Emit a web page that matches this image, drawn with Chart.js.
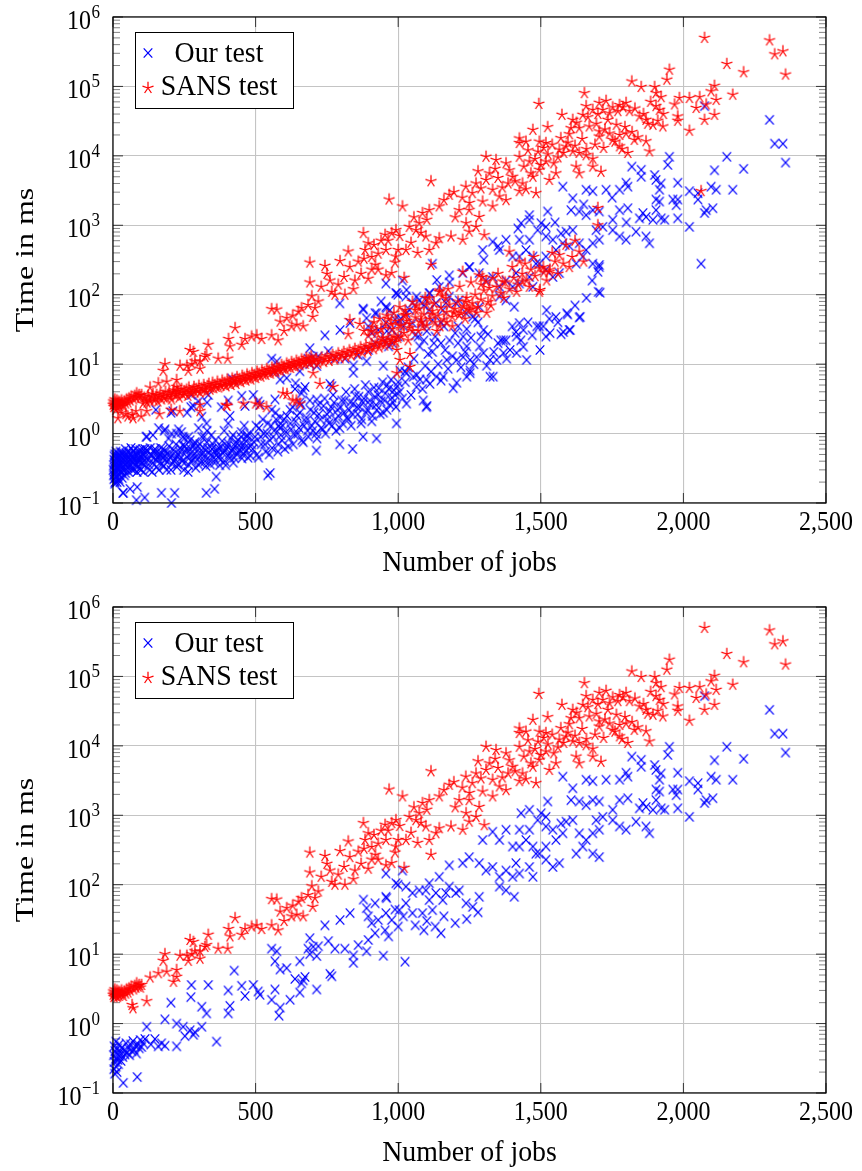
<!DOCTYPE html>
<html>
<head>
<meta charset="utf-8">
<title>Our test vs SANS test</title>
<script src="https://cdn.jsdelivr.net/npm/chart.js@4.4.1/dist/chart.umd.min.js"></script>
<style>
  body { margin: 0; background: #fff; }
  canvas { display: block; }
</style>
</head>
<body>
<canvas id="allJobs" width="862" height="585"></canvas>
<canvas id="subset" width="862" height="586"></canvas>
<script>
// axis ticks
var xTicks = [0, 500, 1000, 1500, 2000, 2500];
var xTickLabels = ['0', '500', '1,000', '1,500', '2,000', '2,500'];
var yTicks = [0.1, 1, 10, 100, 1000, 10000, 100000, 1000000];
var yTickExp = ['\u22121', '0', '1', '2', '3', '4', '5', '6'];

// [jobs, ms] -- runs shown in both plots
var ourShared = [
  [2,0.35],[3,0.22],[4,0.47],[5,0.28],[6,0.19],[7,0.4],[9,0.31],[10,0.55],[11,0.24],[13,0.37],[14,0.2],[16,0.44],[17,0.3],[19,0.26],[21,0.5],[23,0.34],[25,0.39],[28,0.29],[31,0.45],[34,0.33],[36,0.14],[39,0.41],[42,0.36],[46,0.52],[50,0.38],[54,0.44],[58,0.35],[62,0.5],[66,0.4],[70,0.56],[74,0.42],[78,0.48],[82,0.37],[85,0.17],[88,0.5],[92,0.44],[96,0.58],[100,0.46],[106,0.52],[112,0.6],
  [118,0.9],[133,0.5],[147,0.6],[159,0.47],[170,0.52],[182,0.48],[182,1.15],[203,2.0],[223,1.0],[223,0.47],[246,0.9],[252,0.66],[270,0.8],[273,2.4],[275,3.6],[282,0.69],[287,0.75],[311,0.9],[311,1.75],[328,1.4],[334,3.6],[363,0.55],[404,3.0],[404,1.4],[410,1.8],[425,5.8],[451,3.5],[463,2.5],[492,3.6],[509,2.9],[515,2.6],
  [556,2.2],[556,12],[568,3.1],[568,7.9],[574,11],[582,1.3],[586,1.7],[586,6.0],[609,6.3],[621,2.2],[638,4.4],[655,7.9],[655,2.8],[661,3.8],[667,4.2],[673,4.7],[684,12],[690,10],[690,17],[702,12.8],[714,9.4],[714,3.1],[720,13],[743,26],[755,15.4],[761,5.2],[767,4.8],[778,12],[796,31],[813,12],[831,39],[843,9.6],[843,7.5],[860,13.5],[878,61],[889,46],[889,11],[895,16],[895,35],[907,28],[919,54],[919,20],[930,31],[948,9.5],[954,22],[959,64],[966,18],[977,31],[989,44],[999,100],[1000,25],[1018,35],[1024,7.8],
  [957,145],[957,67],[957,39],[992,105],[1004,43],[1015,160],[1027,94],[1027,54],[1050,76],[1050,39],[1074,83],[1085,39],[1097,83],[1109,60],[1109,105],[1120,43],[1132,76],[1144,130],[1156,60],[1167,76],[1179,94],[1179,190],[1202,76],[1214,83],[1226,205],[1238,54],[1249,250],[1261,48],[1284,67],[1284,205],
  [1060,26],[1090,22],[1100,30],[1130,25],[1150,20],[1160,35],[1200,28],[1240,32],[1280,40],
  [1296,440],[1308,160],[1331,580],[1331,180],[1355,440],[1355,130],[1355,94],[1378,620],[1378,160],[1378,83],[1401,355],[1401,130],[1407,67],[1413,205],[1425,355],[1425,145],[1425,620],[1431,1070],[1448,440],[1460,1200],[1460,620],[1460,180],[1472,355],[1472,130],[1483,280],[1489,850],[1495,280],[1501,1070],[1518,950],[1518,690],[1518,355],[1518,230],[1524,1580],[1542,620],[1542,180],[1553,440],[1565,205],[1571,760],[1577,550],[1577,3600],[1589,810],
  [1606,1650],[1612,2450],[1612,850],[1624,280],[1635,1580],[1635,550],[1647,355],[1659,3250],[1659,1400],[1659,440],[1682,3100],[1682,1650],[1682,550],[1682,280],[1694,850],[1705,1580],[1705,620],[1705,250],[1717,950],[1729,3250],[1752,1200],[1752,850],[1776,3250],[1776,1650],[1776,690],[1799,4100],[1799,620],[1805,3600],[1805,1760],[1819,7000],[1834,810],[1846,1260],[1852,6300],[1852,5000],[1858,1500],[1869,1320],[1869,690],[1881,550],[1893,1200],[1899,5300],[1904,4500],[1904,2350],[1904,1650],[1916,3250],[1916,2200],[1922,4000],[1922,1260],[1934,1200],
  [1945,7400],[1951,9700],[1963,2350],[1975,1950],[1980,4100],[1980,2350],[1980,1260],[2021,3100],[2021,950],[2051,2900],[2051,2350],[2074,52000],[2074,1500],[2080,1650],[2097,3600],[2103,1760],[2109,6200],[2115,3250],[2152,9700],[2173,3250],[2211,6500],[2302,33000],[2320,15000],[2349,15000],[2358,8000]
];

var sansShared = [
  [1,2.6],[2,2.9],[3,2.4],[5,2.7],[6,3.1],[8,2.5],[9,2.8],[11,2.6],[13,3.0],[15,2.4],[17,2.7],[19,2.9],[22,2.5],[24,2.8],[27,2.6],[30,3.0],[33,2.7],[36,2.5],[40,2.9],[44,2.7],[48,3.1],[52,2.8],[56,3.2],[60,3.0],[64,3.4],[67,1.85],[70,1.66],[72,3.1],[76,3.5],[80,3.3],[83,3.8],[88,3.4],[92,3.6],[96,3.3],[100,3.6],[118,2.1],
  [130,4.6],[159,5.3],[176,8],[182,10],[188,5.6],[212,4.0],[223,4.7],[223,5.9],[235,9.5],[259,9.5],[264,8],[270,16],[276,10],[282,15],[287,11],[305,11],[305,8.6],[322,12.7],[328,13.5],[334,19],[369,12],[402,12],[405,23],[410,18],[428,33],[451,19],[463,23],[486,25],[504,26],[521,23],
  [556,26],[556,62],[574,61],[579,22],[586,41],[600,30],[609,46],[626,35],[630,50],[644,37],[650,57],[661,64],[667,35],[684,71],[690,150],[690,290],[697,95],[700,48],[708,64],[720,80],[730,130],[743,260],[750,200],[761,160],[767,110],[778,100],[790,140],[796,305],[810,180],[813,100],[825,420],[830,250],[843,120],[848,160],[860,300],[870,200],[878,770],[880,330],[884,440],[895,170],[895,550],[907,230],[907,350],[915,520],[920,270],[930,230],[930,390],[940,600],[954,730],[957,440],[957,190],[965,600],[968,2350],[977,770],[977,205],[989,290],[992,850],[992,355],[1000,440],
  [1005,700],[1015,1870],[1021,175],[1027,440],[1039,950],[1045,560],[1055,1300],[1062,850],[1068,400],[1074,1070],[1080,780],[1085,1500],[1097,690],[1100,1200],[1109,1650],[1109,440],[1115,4300],[1115,270],[1132,550],[1144,1870],[1144,650],[1160,2300],[1179,2750],[1185,690],[1195,3000],[1200,1300],[1214,1650],[1225,2500],[1226,620],[1237,3600],[1238,1070],[1249,1650],[1249,810],[1250,2100],[1260,2900],[1273,4000],[1273,950],[1280,6000],[1284,1320],[1290,3400],[1296,2200],[1302,720],
  [1308,4500],[1308,9700],[1320,5600],[1331,3250],[1331,1870],[1340,6500],[1343,8700],[1350,4800],[1355,2600],[1365,3500],[1378,2300],[1378,7800],[1385,4000],[1390,6200],[1401,5000],[1410,4300],[1425,3100],[1425,9700],[1425,17800],[1425,15300],[1436,4000],[1440,7000],[1448,3300],[1448,16000],[1455,12000],[1460,8300],[1465,5600],[1472,5000],[1472,23700],[1480,9000],[1483,2900],[1490,11500],[1493,56000],[1495,6300],[1495,16000],[1500,7400],[1510,13000],[1518,8300],[1518,15300],[1524,25900],[1525,10500],[1530,4500],[1540,14500],[1545,7800],[1553,5600],[1560,9500],
  [1565,12300],[1570,18000],[1574,39000],[1580,11000],[1589,13600],[1595,15500],[1600,20500],[1606,25000],[1612,11600],[1612,33000],[1620,14000],[1624,7000],[1625,30000],[1635,5600],[1635,11000],[1635,25000],[1645,17500],[1647,39000],[1653,80000],[1659,10200],[1659,52000],[1660,12500],[1665,36000],[1670,26500],[1682,9100],[1682,7000],[1682,46000],[1690,14500],[1695,29000],[1700,40000],[1705,19000],[1705,22500],[1705,58000],[1711,5900],[1717,46000],[1720,13000],[1725,24000],[1729,62000],[1735,33000],[1741,21000],[1741,41000],[1752,17000],[1752,50000],[1760,16000],[1765,28000],[1770,44000],[1776,13700],[1776,20000],[1776,54000],[1785,12500],[1788,50000],[1795,26000],[1799,21000],[1799,58000],[1805,11000],[1811,44000],[1819,118000],[1820,22000],[1828,17000],[1830,48000],[1840,18500],[1846,37000],[1852,98000],[1860,40000],[1869,16200],[1869,33000],[1875,29000],[1881,11600],[1885,60000],[1893,28000],[1899,98000],[1904,80000],[1904,52000],[1910,32000],[1916,46000],[1922,70000],[1928,26500],[1930,40000],[1942,125000],[1951,174000],
  [1969,55000],[1980,37000],[1980,32000],[1986,68000],[2021,68000],[2021,23000],[2045,49000],[2057,70000],[2074,500000],[2074,33000],[2080,55000],[2097,85000],[2109,102000],[2109,39000],[2115,64000],[2152,210000],[2173,76000],[2211,160000],[2302,460000],[2320,290000],[2349,320000],[2358,148000]
];

// runs that only appear in the full plot
var ourExtra = [
  [1,0.3],[3,0.42],[4,0.26],[6,0.5],[8,0.23],[9,0.36],[12,0.45],[15,0.32],[18,0.4],[20,0.22],[24,0.48],[25,0.2],[27,0.36],[30,0.27],[33,0.5],[35,0.14],[38,0.3],[41,0.46],[44,0.27],[48,0.42],[52,0.32],[56,0.55],[60,0.16],[64,0.35],[68,0.46],[72,0.3],[76,0.52],[80,0.42],[82,0.11],[86,0.33],[90,0.56],[94,0.4],[98,0.3],[104,0.6],[108,0.4],[111,0.12],
  [2,0.25],[5,0.38],[7,0.2],[10,0.29],[12,0.5],[14,0.33],[16,0.24],[19,0.46],[22,0.3],[26,0.55],[29,0.4],[32,0.23],[37,0.52],[40,0.25],[43,0.6],[47,0.35],[51,0.48],[55,0.28],[59,0.42],[63,0.62],[67,0.3],[71,0.44],[75,0.36],[79,0.6],[84,0.28],[89,0.4],[93,0.32],[97,0.48],[102,0.38],[107,0.28],
  [110,0.35],[113,0.46],[115,0.52],[117,0.9],[119,0.58],[122,0.42],[125,0.36],[128,0.3],[131,0.62],[134,0.48],[137,0.28],[140,0.38],[140,0.95],[143,0.45],[146,0.56],[149,0.52],[150,2.2],[152,0.33],[155,0.4],[158,0.44],[160,1.2],[161,0.3],[164,0.5],[167,0.62],[170,0.14],[170,0.36],[173,0.45],[176,0.6],[179,0.34],[180,1.1],[182,0.42],[185,0.55],[188,0.3],[191,0.4],[194,0.52],[195,0.85],[197,0.66],[200,0.45],[203,0.3],[205,1.0],[205,0.1],[206,0.37],[209,0.5],[210,2.1],[212,0.58],[215,0.4],[216,0.14],[218,0.43],[221,0.7],[224,0.33],[227,0.36],[230,0.5],[230,1.15],[233,0.55],[236,0.62],[239,0.45],[240,1.05],[242,0.4],[245,0.68],[248,0.3],[250,0.85],[251,0.38],[254,0.55],[257,0.6],[260,0.46],[260,2.0],[263,0.28],[265,0.9],[266,0.35],[269,0.5],[272,0.6],[275,0.4],[278,0.42],[281,0.65],[282,2.5],[284,0.5],[287,0.45],[290,0.32],[293,0.55],[296,0.66],[299,0.36],[300,1.2],[300,2.9],[302,0.45],[305,0.7],[308,0.38],[311,0.5],[314,0.55],[317,0.62],[320,0.48],[320,0.9],[323,0.4],[326,0.34],[327,0.14],[329,0.75],[330,1.1],[330,2.8],[332,0.62],[335,0.52],[338,0.42],[341,0.36],[344,0.5],[345,0.95],[347,0.6],[350,0.7],[353,0.45],[356,0.16],[356,0.38],[359,0.8],[362,0.24],[362,0.58],[365,0.5],[368,0.46],[371,0.62],[374,0.35],[377,0.42],[380,0.64],[380,2.4],[383,0.78],[386,0.52],[389,0.55],[390,1.1],[392,0.4],[395,0.35],[398,0.6],[401,0.66],[404,0.72],[407,0.5],[410,0.45],[413,0.85],[416,0.56],[416,6.2],[419,0.6],[420,0.95],[422,0.38],[425,0.45],[428,0.66],[431,0.75],[434,0.5],[437,0.55],[440,0.8],[443,0.68],[446,0.58],[449,0.9],[450,1.05],[452,0.44],[455,0.5],[458,0.7],[460,1.3],[461,0.62],[464,0.55],[467,0.78],[470,0.95],[470,0.9],[473,0.45],[476,0.62],[479,1.0],[482,0.48],[485,0.7],
  [490,0.6],[495,0.75],[498,0.9],[502,1.3],[505,0.5],[510,0.45],[512,1.2],[518,0.9],[520,0.7],[525,1.6],[528,1.0],[532,0.7],[535,0.55],[540,1.0],[542,1.4],[543,0.25],[548,0.5],[550,0.8],[551,0.27],[555,1.3],[558,0.62],[562,0.9],[565,1.1],[570,2.0],[572,1.6],[578,0.55],[580,0.7],[585,1.2],[588,0.95],[592,0.8],[595,1.3],[600,1.6],[602,0.6],[607,1.05],[610,1.8],[615,0.65],[618,0.85],[622,1.4],[625,1.15],[630,2.4],[632,0.7],[637,0.95],[640,1.5],[640,5.3],[645,1.8],[648,1.0],[652,1.2],[655,2.0],[660,2.6],[662,0.8],[667,0.75],[670,1.3],[675,1.5],[678,1.7],[682,1.1],[685,0.9],[690,3.0],[692,2.2],[697,1.3],[700,1.1],[705,2.0],[708,1.5],[712,1.0],[713,0.57],[715,0.85],[720,2.6],[722,1.9],[727,1.6],[730,1.2],[735,1.15],[738,2.5],[742,3.2],[745,1.0],[750,1.9],[752,1.6],[757,1.4],[760,2.1],[765,2.4],[768,1.3],[772,3.6],[775,2.8],[780,1.6],[782,1.1],[787,2.2],[790,1.8],[795,0.7],[795,1.2],[798,2.4],[802,3.0],[805,1.4],[810,2.0],[812,3.0],[817,4.0],[820,1.7],[825,1.6],[828,2.2],[832,2.8],[835,1.3],[840,0.6],[840,1.9],[842,2.7],[847,4.4],[850,3.5],[855,2.4],[858,1.9],[862,3.4],[865,2.4],[870,1.4],[872,1.6],[877,0.9],[877,2.8],[880,3.2],[885,5.0],[888,2.0],[892,2.2],[895,4.0],[900,3.0],[902,2.6],[907,1.5],[910,1.8],[915,4.6],[918,3.4],[922,2.6],[924,0.85],[925,2.2],[930,3.6],[932,4.5],[937,1.9],[940,2.9],[945,5.5],[948,2.0],[952,3.0],[955,3.8],[960,2.2],[962,5.0],[967,4.4],[970,2.6],[975,6.0],[978,3.3],[982,2.8],[985,4.2],[990,3.6],[992,2.4],[994,1.4],[997,4.8],[1000,5.5],
  [795,75],[877,63],[924,54],[940,80],[960,30],[971,60],[980,20],[994,105],[1005,4],[1006,8.1],[1010,45],[1015,3.2],[1025,5.5],[1029,117],[1029,2.7],[1029,7.4],[1035,9],[1040,60],[1045,3.6],[1053,6.6],[1055,12],[1064,94],[1064,4.7],[1065,7],[1070,25],[1075,18],[1076,6.0],[1085,4.4],[1088,3.0],[1090,70],[1095,9.5],[1099,2.4],[1099,6.0],[1100,2.5],[1105,14],[1111,105],[1111,5.2],[1115,7.8],[1120,15],[1120,280],[1125,20],[1134,6.6],[1135,163],[1140,10],[1150,40],[1150,5.8],[1158,6.6],[1165,16],[1170,11.5],[1175,8.6],[1180,22],[1180,150],[1190,13],[1193,4.5],[1205,5.4],[1205,11.5],[1210,35],[1210,20],[1220,9],[1228,12.6],[1228,25],[1235,15],[1240,6.6],[1240,18],[1250,250],[1252,8.1],[1252,11.5],[1252,7.4],[1255,24],[1265,10],[1270,45],[1275,12.6],[1285,18],[1290,25],[1299,14.5],[1299,31],[1300,320],[1310,9.5],[1315,27],[1322,11.5],[1322,6.6],[1333,6.6],[1335,15],[1345,11.5],[1350,500],[1350,20],[1360,22],[1369,14.5],[1369,22],[1378,22],[1380,12],[1392,16],[1400,35],[1413,29],[1415,14.5],[1415,25],[1420,900],[1425,39],[1430,22],[1439,17.8],[1439,31],[1450,11.5],[1455,40],[1460,1400],[1470,26],[1486,35],[1495,35],[1497,16],[1509,35],[1518,25],[1520,60],[1530,45],[1532,28],[1550,1100],[1553,48],[1560,40],[1571,27],[1579,29],[1591,54],[1594,52],[1600,31],[1600,500],[1603,31],[1620,70],[1635,47],[1638,48],[1650,2000],[1660,90],[1680,160],[1700,214],[1702,110],[1705,268],[1708,107],[1750,2500],[1800,1100],[2062,280]
];

var sansExtra = [
  // below the main band
  [10,2.2],[17,1.66],[30,2.0],[45,1.9],[52,1.76],[80,2.1],[99,1.76],[163,1.9],[204,2.2],[234,2.1],[304,2.6],[305,2.1],[397,2.6],[400,2.5],[457,2.7],[500,2.7],[514,2.6],[538,2.4],[596,3.8],[610,3.7],[630,3.0],[643,3.0],[655,2.7],[702,7.4],[725,5.2],[772,4.7],
  // main band up to 1,000 jobs
  [105,2.7],[110,3.3],[114,3.0],[119,2.8],[123,3.5],[127,3.1],[131,2.9],[136,3.4],[140,3.7],[144,3.0],[149,3.2],[153,3.6],[157,2.9],[162,3.4],[166,3.8],[170,3.1],[175,3.5],[179,3.3],[184,4.0],[188,3.2],[192,3.6],[197,3.9],[201,3.4],[205,3.1],[210,3.8],[214,4.2],[219,3.5],[223,3.7],[227,4.1],[232,3.3],[236,3.9],[240,4.4],[245,3.6],[249,4.0],[253,3.8],[258,4.3],[262,3.5],[266,4.6],[271,4.0],[275,3.8],[279,4.2],[284,4.7],[288,3.9],[292,4.4],[297,4.1],[301,4.9],[305,3.9],[310,4.5],[314,4.2],[318,5.0],[323,4.4],[327,4.0],[331,4.8],[336,5.2],[340,4.3],[344,4.6],[349,5.4],[353,4.5],[357,5.0],[362,4.7],[366,5.6],[370,4.6],[375,5.1],[379,4.9],[383,5.8],[388,5.0],[392,5.4],[396,4.8],[401,6.0],[405,5.2],[409,5.6],[414,5.0],[418,6.2],[422,5.5],[427,5.9],[431,5.2],[435,6.5],[440,5.7],[444,6.1],[448,5.5],[453,6.8],[457,6.0],[461,6.4],[466,5.8],[470,7.1],[474,6.2],[479,6.7],[483,6.0],[487,7.4],[492,6.5],[496,7.0],[500,6.3],[505,7.8],[509,6.8],[513,7.3],[518,6.6],[522,8.1],[526,7.1],[531,7.7],[535,7.0],[539,8.5],[544,7.5],[548,8.0],[552,7.3],[557,8.9],[561,7.8],[565,8.4],[570,7.6],[574,9.3],[578,8.2],[583,8.8],[587,8.0],[591,9.7],[596,8.6],[600,9.2],[604,8.4],[609,10.2],[613,9.0],[617,9.7],[622,8.8],[626,10.7],[630,9.4],[635,10.1],[639,9.2],[643,11.2],[648,9.9],[652,10.6],[656,9.6],[661,11.7],[665,10.3],[669,11.1],[674,10.1],[678,12.3],[682,10.8],[687,11.6],[691,10.5],[695,12.9],[700,11.3],
  [705,10.8],[712,11.9],[718,10.2],[725,11.3],[731,12.4],[738,10.7],[744,11.8],[751,13.0],[757,11.1],[764,12.5],[770,13.6],[777,11.6],[783,13.0],[790,14.3],[796,12.1],[803,13.6],[809,15.0],[816,12.7],[822,14.3],[829,15.8],[835,13.3],[842,15.0],[848,16.6],[855,14.0],[861,15.8],[868,17.5],[874,14.7],[881,16.6],[887,18.4],[894,15.5],[900,17.5],[907,19.5],[913,16.4],[920,18.5],[926,20.6],[933,17.4],[939,19.6],[946,21.9],[952,18.5],[959,20.8],[965,23.3],[972,19.7],[978,22.2],[985,24.8],[991,21.0],[998,23.7],
  // above the band, 800-1,000 jobs
  [825,27],[830,43],[865,38],[880,30],[895,26],[905,30],[910,34],[915,40],[925,28],[935,45],[940,32],[945,24],[955,36],[960,50],[965,45],[975,38],[980,32],[985,55],[990,42],[995,16],[995,7.4],
  // 1,000 jobs and up
  [1004,36],[1005,66],[1006,11.5],[1010,36],[1010,25],[1020,28],[1020,50],[1025,60],[1027,51],[1030,42],[1035,22],[1040,33],[1040,38],[1041,9.1],[1041,14],[1050,79],[1050,30],[1060,47],[1060,60],[1065,70],[1070,30],[1074,63],[1080,40],[1080,44],[1085,35],[1090,52],[1095,90],[1100,36],[1100,72],[1109,89],[1110,45],[1120,58],[1120,52],[1125,75],[1130,40],[1135,30],[1140,50],[1144,110],[1146,115],[1146,35],[1150,65],[1155,95],[1160,44],[1167,89],[1170,56],[1170,40],[1175,120],[1180,72],[1190,48],[1190,35],[1195,55],[1200,62],[1210,80],[1214,51],[1215,130],[1220,55],[1226,214],[1230,68],[1235,45],[1237,79],[1240,90],[1240,63],[1250,60],[1255,150],[1260,75],[1261,63],[1270,100],[1275,55],[1280,66],[1284,190],[1290,85],[1290,140],[1295,180],[1300,115],[1308,155],[1310,55],[1315,78],[1320,125],[1325,70],[1330,95],[1331,173],[1345,130],[1350,200],[1360,105],[1366,155],[1370,90],[1375,150],[1390,120],[1390,417],[1400,250],[1405,175],[1415,110],[1420,140],[1425,302],[1435,200],[1436,155],[1445,280],[1450,160],[1460,130],[1465,230],[1475,350],[1480,185],[1495,240],[1495,110],[1497,117],[1509,250],[1510,210],[1520,160],[1530,214],[1532,230],[1540,400],[1550,300],[1560,200],[1565,372],[1579,280],[1588,525],[1600,250],[1610,350],[1620,600],[1635,417],[1650,300],[1700,1780],[1700,1000],[2062,3100]
];

var STRETCH = 1.15;
var SERIF = '"Liberation Serif", "Times New Roman", serif';

// pgfplots-style marks: 'x' for our runs, five-armed star for SANS
function makeMark(kind, color) {
  var c = document.createElement('canvas');
  c.width = 16;
  c.height = 16;
  var g = c.getContext('2d');
  g.strokeStyle = color;
  g.lineWidth = 1.25;
  g.beginPath();
  if (kind === 'x') {
    g.moveTo(3.7, 3.4); g.lineTo(12.3, 12.6);
    g.moveTo(12.3, 3.4); g.lineTo(3.7, 12.6);
  } else {
    for (var i = 0; i < 5; i++) {
      var a = -Math.PI / 2 + i * 2 * Math.PI / 5;
      g.moveTo(8, 8);
      g.lineTo(8 + 5.8 * Math.cos(a), 8 + 6.2 * Math.sin(a));
    }
  }
  g.stroke();
  return c;
}

var blueX = makeMark('x', '#0000ff');
var redStar = makeMark('star', '#ff0000');

function text(ctx, s, x, y, size, align, sx) {
  ctx.save();
  ctx.translate(x, y);
  ctx.scale(sx || 1, STRETCH);
  ctx.font = size + 'px ' + SERIF;
  ctx.textAlign = align;
  ctx.textBaseline = 'alphabetic';
  ctx.fillStyle = '#000';
  ctx.fillText(s, 0, 0);
  ctx.restore();
}

var axisDecor = {
  id: 'axisDecor',
  beforeDatasetsDraw: function (chart) {
    var ctx = chart.ctx, a = chart.chartArea;
    var xs = chart.scales.x, ys = chart.scales.y;
    ctx.save();
    // minor log ticks, left and right
    ctx.strokeStyle = '#666';
    ctx.lineWidth = 0.8;
    ctx.beginPath();
    for (var d = 0; d < yTicks.length - 1; d++) {
      for (var m = 2; m <= 9; m++) {
        var py = ys.getPixelForValue(yTicks[d] * m);
        ctx.moveTo(a.left, py); ctx.lineTo(a.left + 7, py);
        ctx.moveTo(a.right, py); ctx.lineTo(a.right - 7, py);
      }
    }
    ctx.stroke();
    // major ticks on all four sides
    ctx.strokeStyle = '#333';
    ctx.lineWidth = 1;
    ctx.beginPath();
    yTicks.forEach(function (v) {
      var py = ys.getPixelForValue(v);
      ctx.moveTo(a.left, py); ctx.lineTo(a.left + 10, py);
      ctx.moveTo(a.right, py); ctx.lineTo(a.right - 10, py);
    });
    xTicks.forEach(function (v) {
      var px = xs.getPixelForValue(v);
      ctx.moveTo(px, a.bottom); ctx.lineTo(px, a.bottom - 10);
      ctx.moveTo(px, a.top); ctx.lineTo(px, a.top + 10);
    });
    ctx.stroke();
    ctx.restore();
  },
  afterDraw: function (chart) {
    var ctx = chart.ctx, a = chart.chartArea;
    var xs = chart.scales.x, ys = chart.scales.y;
    ctx.save();
    ctx.strokeStyle = '#000';
    ctx.lineWidth = 1.2;
    ctx.strokeRect(a.left, a.top, a.right - a.left, a.bottom - a.top);

    xTicks.forEach(function (v, i) {
      text(ctx, xTickLabels[i], xs.getPixelForValue(v), a.bottom + 27, 24, 'center');
    });
    yTicks.forEach(function (v, i) {
      var py = ys.getPixelForValue(v);
      ctx.font = '17px ' + SERIF;
      var ew = ctx.measureText(yTickExp[i]).width;
      text(ctx, yTickExp[i], a.left - 13, py + 1, 17, 'right');
      text(ctx, '10', a.left - 13 - ew - 0.5, py + 12, 24, 'right');
    });

    text(ctx, 'Number of jobs', (a.left + a.right) / 2, a.bottom + 68, 26, 'center', 1.07);
    ctx.save();
    ctx.translate(33, (a.top + a.bottom) / 2);
    ctx.rotate(-Math.PI / 2);
    ctx.scale(STRETCH * 1.07, 1);
    ctx.font = '26px ' + SERIF;
    ctx.textAlign = 'center';
    ctx.fillStyle = '#000';
    ctx.fillText('Time in ms', 0, 0);
    ctx.restore();

    // legend box
    var lx = a.left + 22, ly = a.top + 15;
    ctx.fillStyle = '#fff';
    ctx.fillRect(lx, ly, 158, 76);
    ctx.lineWidth = 1;
    ctx.strokeRect(lx + 0.5, ly + 0.5, 158, 76);
    ctx.drawImage(blueX, lx + 13 - 8, ly + 21 - 8);
    ctx.drawImage(redStar, lx + 13 - 8, ly + 56 - 8);
    text(ctx, 'Our test', lx + 84, ly + 29.5, 26, 'center', 1.07);
    text(ctx, 'SANS test', lx + 84, ly + 63, 26, 'center', 1.07);
    ctx.restore();
  }
};

function drawPlot(id, ours, sans, padTop, xHeight) {
  return new Chart(document.getElementById(id), {
    type: 'scatter',
    data: {
      datasets: [
        { label: 'Our test', data: ours.map(function (p) { return { x: p[0], y: p[1] }; }),
          pointStyle: blueX, pointRadius: 4, order: 2, clip: false },
        { label: 'SANS test', data: sans.map(function (p) { return { x: p[0], y: p[1] }; }),
          pointStyle: redStar, pointRadius: 4, order: 1, clip: false }
      ]
    },
    options: {
      responsive: false,
      animation: false,
      events: [],
      layout: { padding: { left: 0, right: 36, top: padTop, bottom: 0 } },
      plugins: { legend: { display: false }, tooltip: { enabled: false } },
      scales: {
        x: {
          type: 'linear', min: 0, max: 2500,
          ticks: { display: false, stepSize: 500 },
          grid: { color: '#c4c4c4', lineWidth: 1.1, drawTicks: false },
          border: { display: false },
          afterFit: function (s) { s.height = xHeight; }
        },
        y: {
          type: 'logarithmic', min: 0.1, max: 1000000,
          ticks: { display: false },
          grid: { color: '#c4c4c4', lineWidth: 1.1, drawTicks: false },
          border: { display: false },
          afterBuildTicks: function (s) { s.ticks = yTicks.map(function (v) { return { value: v }; }); },
          afterFit: function (s) { s.width = 113; }
        }
      }
    },
    plugins: [axisDecor]
  });
}

drawPlot('allJobs', ourShared.concat(ourExtra), sansShared.concat(sansExtra), 17, 82);
drawPlot('subset', ourShared, sansShared, 22, 78);
</script>
</body>
</html>
